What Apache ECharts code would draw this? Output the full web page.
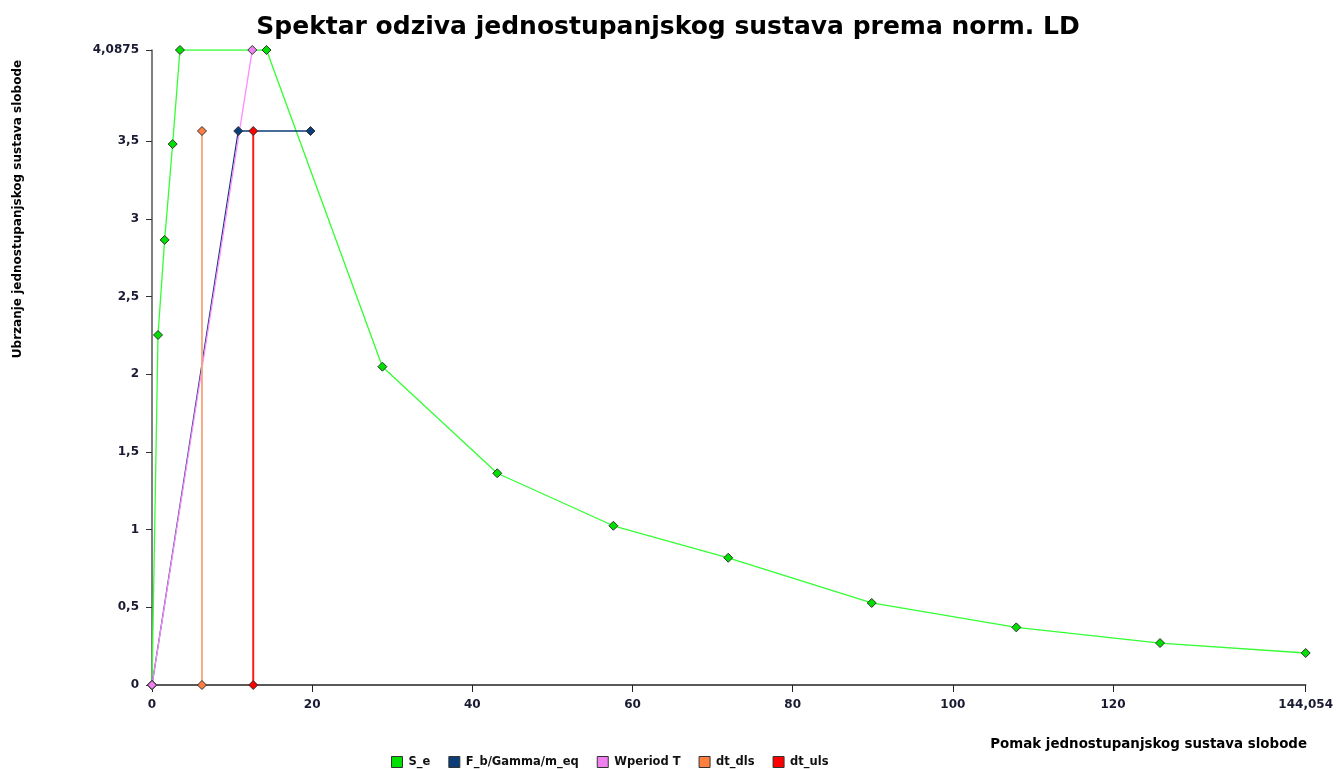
<!DOCTYPE html>
<html>
<head>
<meta charset="utf-8">
<title>Spektar odziva</title>
<script src="https://cdn.jsdelivr.net/npm/echarts@6/dist/echarts.min.js"></script>
<style>
  html, body { margin: 0; padding: 0; background: #fff; }
  #chart { width: 1336px; height: 769px; }
</style>
</head>
<body>
<div id="chart"></div>
<script>
// Elastic response spectrum (ADRS): displacement vs. acceleration
const seDisp = [0, 0.75, 1.58, 2.58, 3.49, 14.30, 28.77, 43.11, 57.61, 71.95, 89.87, 107.92, 125.87, 144.054];
const seAcc  = [0, 2.253, 2.865, 3.482, 4.0875, 4.0875, 2.049, 1.363, 1.025, 0.819, 0.528, 0.371, 0.270, 0.206];

// Capacity curve F_b / Gamma / m_eq
const fbDisp = [0, 10.77, 19.79];
const fbAcc  = [0, 3.566, 3.566];

// Period line
const wpDisp = [0, 12.52];
const wpAcc  = [0, 4.0875];

// Target displacements
const dlsDisp = [6.24, 6.24];
const dlsAcc  = [0, 3.566];
const ulsDisp = [12.64, 12.64];
const ulsAcc  = [0, 3.566];

// Axis ticks
const xTicks = [0, 20, 40, 60, 80, 100, 120, 144.054];
const yTicks = [0, 0.5, 1, 1.5, 2, 2.5, 3, 3.5, 4.0875];

const seriesNames = ['S_e', 'F_b/Gamma/m_eq', 'Wperiod T', 'dt_dls', 'dt_uls'];

function pairs(xs, ys) { return xs.map((x, i) => [x, ys[i]]); }
function fmt(v) { return String(v).replace('.', ','); }

const FONT = 'DejaVu Sans';
const markerStyle = (fill) => ({ color: fill, borderColor: '#333', borderWidth: 1 });

function lineSeries(name, data, lineColor, fill, width) {
  return {
    name: name,
    type: 'line',
    data: data,
    symbol: 'diamond',
    symbolSize: 9,
    showSymbol: true,
    lineStyle: { color: lineColor, width: width || 1.3 },
    itemStyle: markerStyle(fill),
    emphasis: { disabled: true },
    z: 2
  };
}

const chart = echarts.init(document.getElementById('chart'), null, { renderer: 'canvas' });

chart.setOption({
  animation: false,
  backgroundColor: '#ffffff',
  title: {
    text: 'Spektar odziva jednostupanjskog sustava prema norm. LD',
    left: 'center',
    top: 15,
    padding: 0,
    textStyle: { fontFamily: FONT, fontWeight: 'bold', fontSize: 25, color: '#000' }
  },
  grid: { left: 152, right: 28.5, top: 50, bottom: 84 },
  legend: {
    data: seriesNames,
    left: 391,
    top: 756,
    padding: 0,
    icon: 'rect',
    itemWidth: 11,
    itemHeight: 11,
    itemGap: 18,
    itemStyle: { borderColor: '#333', borderWidth: 1 },
    textStyle: { fontFamily: FONT, fontWeight: 'bold', fontSize: 11.5, color: '#111', padding: [0, 0, 0, 1] }
  },
  xAxis: {
    type: 'value',
    min: 0,
    max: 144.054,
    splitLine: { show: false },
    axisLine: { show: true, onZero: false, lineStyle: { color: '#222', width: 1.5 } },
    axisTick: { show: true, length: 7, customValues: xTicks, lineStyle: { color: '#222' } },
    axisLabel: {
      customValues: xTicks,
      formatter: fmt,
      margin: 14,
      fontFamily: FONT, fontWeight: 'bold', fontSize: 12, color: '#1a1a33'
    }
  },
  yAxis: {
    type: 'value',
    min: 0,
    max: 4.0875,
    splitLine: { show: false },
    axisLine: { show: true, onZero: false, lineStyle: { color: '#555', width: 1.5 } },
    axisTick: { show: true, length: 6, customValues: yTicks, lineStyle: { color: '#333' } },
    axisLabel: {
      customValues: yTicks,
      formatter: fmt,
      margin: 13,
      fontFamily: FONT, fontWeight: 'bold', fontSize: 12, color: '#1a1a33'
    }
  },
  graphic: [
    {
      type: 'text',
      x: 18, y: 209,
      rotation: Math.PI / 2,
      style: {
        text: 'Ubrzanje jednostupanjskog sustava slobode',
        fontFamily: FONT, fontWeight: 'bold', fontSize: 12, fill: '#000',
        textAlign: 'center', textVerticalAlign: 'middle'
      }
    },
    {
      type: 'text',
      x: 1307, y: 745,
      style: {
        text: 'Pomak jednostupanjskog sustava slobode',
        fontFamily: FONT, fontWeight: 'bold', fontSize: 13.4, fill: '#000',
        textAlign: 'right', textVerticalAlign: 'middle'
      }
    }
  ],
  series: [
    lineSeries('S_e', pairs(seDisp, seAcc), '#33ff33', '#00e000'),
    lineSeries('F_b/Gamma/m_eq', pairs(fbDisp, fbAcc), '#0b3d78', '#0b3d78'),
    lineSeries('Wperiod T', pairs(wpDisp, wpAcc), '#ff88ff', '#f080f0'),
    lineSeries('dt_dls', pairs(dlsDisp, dlsAcc), '#f7a57a', '#ff7f40', 1.8),
    lineSeries('dt_uls', pairs(ulsDisp, ulsAcc), '#ff1a1a', '#ff0000', 2)
  ]
});
</script>
</body>
</html>
